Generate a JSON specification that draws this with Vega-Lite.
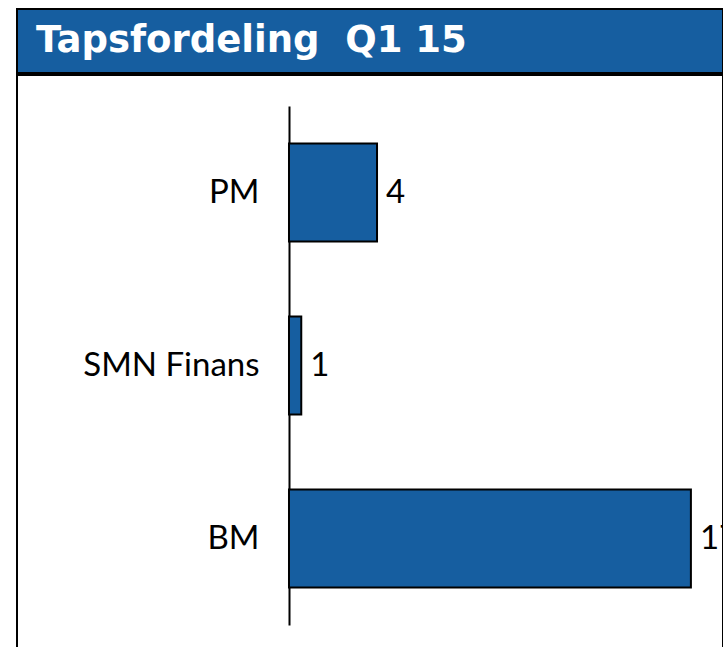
{
  "$schema": "https://vega.github.io/schema/vega-lite/v6.json",
  "padding": {"left": 16, "top": 8, "right": 0, "bottom": 0},
  "spacing": 0,
  "background": "white",
  "config": {"concat": {"spacing": 0}},
  "datasets": {
    "losses": [
      {"segment": "PM", "value": 3.73},
      {"segment": "SMN Finans", "value": 0.52},
      {"segment": "BM", "value": 17.03}
    ]
  },
  "vconcat": [
    {
      "width": 706,
      "height": 64,
      "data": {"values": []},
      "mark": "rect",
      "view": {"fill": "#165EA0", "stroke": "black", "strokeWidth": 2},
      "title": {
        "text": "Tapsfordeling \u00a0Q1 15",
        "anchor": "start",
        "frame": "group",
        "orient": "bottom",
        "offset": -21,
        "dx": 19,
        "font": "DejaVu Sans",
        "fontSize": 37,
        "fontWeight": "bold",
        "color": "white",
        "baseline": "alphabetic"
      }
    },
    {
      "width": 706,
      "height": 590,
      "data": {"name": "losses"},
      "view": {"fill": "white", "stroke": "black", "strokeWidth": 2},
      "encoding": {
        "y": {
          "field": "segment",
          "type": "nominal",
          "sort": ["PM", "SMN Finans", "BM"],
          "scale": {"range": [31, 550], "paddingInner": 0.434, "paddingOuter": 0.217},
          "axis": {
            "title": null,
            "orient": "left",
            "offset": -272,
            "domainColor": "black",
            "domainWidth": 2,
            "ticks": false,
            "labelPadding": 30,
            "labelFont": "Lato",
            "labelFontSize": 33,
            "labelColor": "black",
            "labelBaseline": "middle"
          }
        },
        "x": {
          "field": "value",
          "type": "quantitative",
          "scale": {"domain": [-11.525, 18.39], "nice": false, "zero": false},
          "axis": null
        }
      },
      "layer": [
        {"mark": {"type": "bar", "fill": "#165EA0", "stroke": "black", "strokeWidth": 2}},
        {
          "mark": {"type": "text", "align": "left", "baseline": "middle", "dx": 9, "font": "Lato", "fontSize": 33, "color": "black", "clip": true},
          "encoding": {"text": {"field": "value", "type": "quantitative", "format": ".0f"}}
        }
      ]
    }
  ]
}
